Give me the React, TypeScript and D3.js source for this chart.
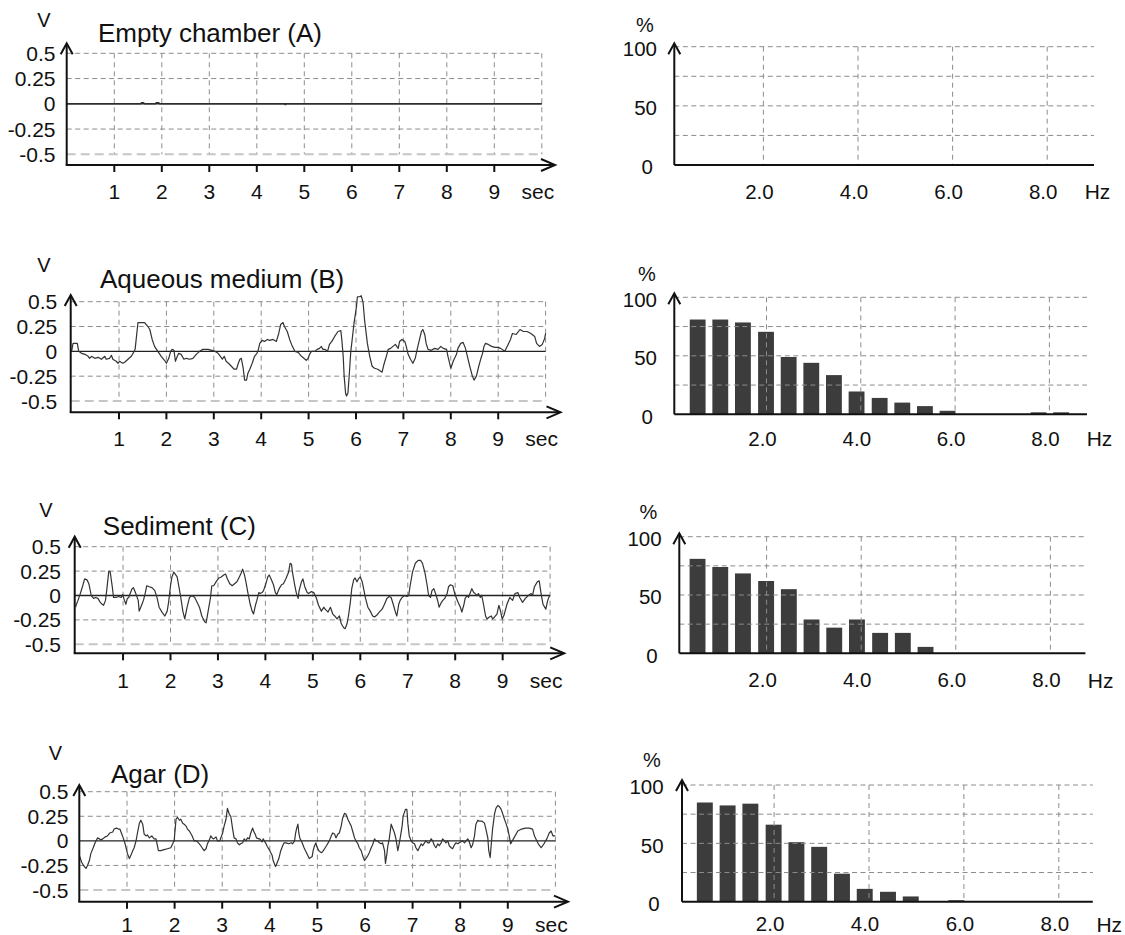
import React from 'react';
import * as d3 from 'd3';

type Pt = [number, number];

const FONT = '"Liberation Sans", Arial, Helvetica, sans-serif';

// ---- axis ticks and labels ----
const secTicks = [1, 2, 3, 4, 5, 6, 7, 8, 9];
const voltTicks = [0.5, 0.25, 0, -0.25, -0.5];
const voltLabels = ['0.5', '0.25', '0', '-0.25', '-0.5'];
const hzTicks = [2, 4, 6, 8];
const hzLabels = ['2.0', '4.0', '6.0', '8.0'];
const pctGrid = [25, 50, 75, 100];
const pctTicks = [0, 50, 100];

const titles = ['Empty chamber (A)', 'Aqueous medium (B)', 'Sediment (C)', 'Agar (D)'];

// ---- voltage traces (sec, V) ----
const signalA: Pt[] = [
  [0, 0], [1.56, 0], [1.57, 0.012], [1.62, 0.012], [1.63, 0], [1.87, 0], [1.88, 0.012], [1.94, 0.012],
  [1.95, 0], [4.58, 0], [4.59, -0.008], [4.61, -0.008], [4.62, 0], [10, 0],
];

const signalB: Pt[] = [
  [0, 0], [0.03, 0.08], [0.12, 0.08], [0.15, 0], [0.21, -0.02], [0.28, -0.03], [0.35, -0.05], [0.38, -0.07],
  [0.42, -0.05], [0.49, -0.07], [0.56, -0.06], [0.63, -0.08], [0.7, -0.05], [0.73, -0.08], [0.8, -0.07],
  [0.84, -0.04], [0.87, -0.08], [0.94, -0.1], [0.98, -0.12], [1.01, -0.1], [1.08, -0.12], [1.12, -0.11],
  [1.19, -0.08], [1.26, -0.05], [1.32, 0], [1.34, 0.02], [1.4, 0.29], [1.47, 0.29], [1.54, 0.29], [1.61, 0.25],
  [1.65, 0.22], [1.7, 0.12], [1.75, 0.05], [1.82, 0], [1.89, -0.05], [1.96, -0.09], [2.0, -0.12], [2.05, -0.07],
  [2.09, 0], [2.12, 0.02], [2.16, 0.01], [2.19, -0.1], [2.23, -0.05], [2.26, -0.02], [2.31, -0.03], [2.37, -0.08],
  [2.42, -0.07], [2.49, -0.08], [2.56, -0.07], [2.63, -0.03], [2.7, 0], [2.77, 0.02], [2.88, 0.02], [2.96, 0.01],
  [3.02, 0], [3.09, -0.02], [3.14, -0.05], [3.18, -0.08], [3.22, -0.05], [3.26, -0.1], [3.31, -0.12], [3.37, -0.15],
  [3.43, -0.18], [3.48, -0.18], [3.51, -0.13], [3.55, -0.08], [3.58, -0.07], [3.62, -0.17], [3.65, -0.29],
  [3.69, -0.29], [3.72, -0.22], [3.76, -0.18], [3.81, -0.12], [3.86, -0.05], [3.91, -0.02], [3.93, 0], [3.97, 0.08],
  [4.02, 0.11], [4.07, 0.1], [4.13, 0.12], [4.18, 0.11], [4.25, 0.12], [4.32, 0.1], [4.37, 0.18], [4.41, 0.27],
  [4.46, 0.29], [4.49, 0.25], [4.55, 0.2], [4.6, 0.12], [4.64, 0.07], [4.71, 0], [4.78, -0.01], [4.85, -0.05],
  [4.9, -0.07], [4.95, -0.09], [4.99, -0.07], [5.02, -0.03], [5.06, 0], [5.13, 0], [5.18, 0.02], [5.23, 0.03],
  [5.27, 0.05], [5.3, 0.02], [5.34, 0.02], [5.4, 0], [5.44, 0.07], [5.49, 0.1], [5.55, 0.15], [5.62, 0.2],
  [5.68, 0.21], [5.7, 0.12], [5.73, -0.05], [5.75, -0.25], [5.78, -0.42], [5.8, -0.45], [5.83, -0.42],
  [5.86, -0.22], [5.89, 0], [5.92, 0.12], [5.96, 0.29], [6.01, 0.45], [6.03, 0.55], [6.08, 0.55], [6.11, 0.56],
  [6.15, 0.49], [6.18, 0.32], [6.24, 0.08], [6.29, -0.05], [6.34, -0.15], [6.39, -0.17], [6.46, -0.18],
  [6.52, -0.2], [6.55, -0.21], [6.59, -0.13], [6.64, -0.05], [6.68, 0.02], [6.73, 0.03], [6.78, 0.05], [6.83, 0.07],
  [6.89, 0.03], [6.92, 0.1], [6.97, 0.12], [7.03, 0.1], [7.06, 0.05], [7.1, -0.03], [7.15, -0.08], [7.2, -0.12],
  [7.25, -0.07], [7.29, 0.02], [7.32, 0.08], [7.38, 0.2], [7.41, 0.22], [7.45, 0.17], [7.48, 0.08], [7.52, 0.02],
  [7.59, 0.01], [7.66, 0.03], [7.73, 0.02], [7.79, 0.05], [7.84, 0.03], [7.91, 0.02], [7.94, -0.05], [8.0, -0.17],
  [8.05, -0.1], [8.12, -0.03], [8.15, 0.03], [8.21, 0.08], [8.26, 0.09], [8.31, 0.03], [8.35, -0.05], [8.4, -0.15],
  [8.45, -0.24], [8.49, -0.29], [8.54, -0.25], [8.59, -0.15], [8.63, -0.08], [8.67, -0.02], [8.7, 0.05],
  [8.73, 0.08], [8.79, 0.07], [8.86, 0.05], [8.93, 0.04], [9.0, 0.04], [9.05, 0.03], [9.14, 0], [9.26, 0.12],
  [9.3, 0.18], [9.38, 0.17], [9.46, 0.22], [9.53, 0.2], [9.61, 0.2], [9.69, 0.18], [9.77, 0.15], [9.81, 0.08],
  [9.87, 0.05], [9.93, 0.07], [9.98, 0.13], [10, 0.18],
];

const signalC: Pt[] = [
  [0, -0.12], [0.01, -0.1], [0.05, -0.05], [0.1, 0.02], [0.15, 0.1], [0.19, 0.17], [0.24, 0.16], [0.28, 0.12],
  [0.33, 0], [0.38, -0.03], [0.42, -0.02], [0.47, -0.03], [0.52, -0.07], [0.56, -0.09], [0.59, -0.1], [0.63, -0.05],
  [0.66, 0.07], [0.7, 0.25], [0.73, 0.24], [0.77, 0.1], [0.8, -0.02], [0.85, -0.02], [0.91, -0.01], [0.96, -0.02],
  [0.99, 0.01], [1.03, -0.05], [1.06, -0.09], [1.09, -0.03], [1.12, -0.02], [1.15, 0.02], [1.19, 0.07], [1.22, 0.08],
  [1.26, 0.03], [1.32, -0.05], [1.34, -0.16], [1.39, -0.1], [1.43, -0.05], [1.47, 0.03], [1.5, 0.1], [1.55, 0.09],
  [1.61, 0.08], [1.67, 0.05], [1.72, -0.03], [1.76, -0.12], [1.82, -0.17], [1.88, -0.21], [1.93, -0.16],
  [1.96, -0.07], [2.0, 0.1], [2.03, 0.19], [2.07, 0.24], [2.14, 0.19], [2.21, 0], [2.26, -0.16], [2.3, -0.24],
  [2.35, -0.12], [2.4, -0.02], [2.45, 0], [2.51, -0.02], [2.56, -0.07], [2.61, -0.12], [2.66, -0.21], [2.72, -0.27],
  [2.75, -0.28], [2.79, -0.17], [2.84, -0.03], [2.87, 0.1], [2.91, 0.1], [2.96, 0.14], [3.02, 0.18], [3.07, 0.19],
  [3.12, 0.21], [3.16, 0.22], [3.2, 0.17], [3.25, 0.12], [3.3, 0.1], [3.35, 0.12], [3.4, 0.14], [3.44, 0.18],
  [3.49, 0.23], [3.52, 0.27], [3.56, 0.21], [3.59, 0.14], [3.63, 0.03], [3.68, -0.09], [3.72, -0.16], [3.75, -0.19],
  [3.79, -0.1], [3.82, -0.05], [3.86, 0.03], [3.89, 0.02], [3.93, 0.03], [3.96, 0.05], [4.01, 0.12], [4.05, 0.19],
  [4.08, 0.21], [4.12, 0.17], [4.17, 0.11], [4.21, 0.03], [4.24, 0.01], [4.29, 0.07], [4.34, 0.11], [4.38, 0.12],
  [4.43, 0.17], [4.49, 0.24], [4.52, 0.33], [4.55, 0.32], [4.57, 0.24], [4.62, 0.1], [4.65, 0.03], [4.69, -0.03],
  [4.71, 0.05], [4.76, 0.14], [4.79, 0.17], [4.83, 0.09], [4.88, 0.03], [4.91, 0.02], [4.97, 0.04], [5.02, 0.03],
  [5.07, -0.02], [5.12, -0.1], [5.18, -0.16], [5.23, -0.12], [5.26, -0.14], [5.32, -0.17], [5.37, -0.12],
  [5.42, -0.19], [5.46, -0.21], [5.51, -0.24], [5.56, -0.21], [5.6, -0.29], [5.65, -0.33], [5.68, -0.34],
  [5.72, -0.29], [5.75, -0.21], [5.79, -0.07], [5.82, 0.07], [5.86, 0.16], [5.89, 0.18], [5.93, 0.14], [5.96, 0.17],
  [6.0, 0.19], [6.04, 0.14], [6.07, 0.07], [6.11, -0.03], [6.16, -0.12], [6.21, -0.16], [6.26, -0.21], [6.3, -0.22],
  [6.35, -0.2], [6.4, -0.17], [6.46, -0.14], [6.51, -0.09], [6.56, -0.03], [6.61, -0.01], [6.65, -0.02],
  [6.7, -0.1], [6.74, -0.17], [6.77, -0.21], [6.81, -0.09], [6.84, -0.05], [6.88, -0.02], [6.93, 0], [6.98, -0.01],
  [7.02, 0], [7.05, 0.1], [7.1, 0.24], [7.16, 0.33], [7.22, 0.36], [7.27, 0.36], [7.31, 0.33], [7.36, 0.24],
  [7.41, 0.1], [7.44, 0], [7.48, -0.02], [7.51, 0.05], [7.55, 0.07], [7.6, 0], [7.64, -0.07], [7.66, -0.12],
  [7.71, -0.07], [7.74, -0.05], [7.78, -0.03], [7.83, 0.02], [7.86, 0.09], [7.9, 0.11], [7.95, 0.1], [7.99, 0.02],
  [8.02, -0.02], [8.06, -0.07], [8.11, -0.12], [8.14, -0.17], [8.18, -0.1], [8.21, -0.03], [8.25, 0], [8.28, -0.02],
  [8.32, 0.03], [8.35, 0.07], [8.39, 0.03], [8.42, 0.02], [8.46, 0], [8.49, 0.02], [8.53, -0.02], [8.56, 0],
  [8.6, -0.1], [8.64, -0.21], [8.67, -0.24], [8.72, -0.22], [8.76, -0.21], [8.79, -0.24], [8.83, -0.22],
  [8.88, -0.19], [8.92, -0.1], [8.95, -0.15], [8.99, -0.24], [9.03, -0.2], [9.09, -0.09], [9.15, -0.02],
  [9.21, -0.05], [9.26, 0.02], [9.32, 0.03], [9.36, -0.02], [9.42, -0.07], [9.48, -0.03], [9.54, 0], [9.6, 0.02],
  [9.63, 0], [9.67, 0.09], [9.73, 0.14], [9.77, 0.15], [9.81, 0.02], [9.85, -0.09], [9.91, -0.14], [9.95, -0.05],
  [9.99, 0],
];

const signalD: Pt[] = [
  [0, -0.15], [0.05, -0.22], [0.1, -0.26], [0.14, -0.28], [0.17, -0.25], [0.21, -0.2], [0.24, -0.13], [0.29, -0.07],
  [0.33, -0.02], [0.38, 0.03], [0.42, 0.02], [0.45, 0.01], [0.49, 0.02], [0.54, 0.04], [0.59, 0.05], [0.64, 0.08],
  [0.7, 0.09], [0.73, 0.12], [0.78, 0.13], [0.82, 0.12], [0.85, 0.12], [0.89, 0.07], [0.92, 0.03], [0.96, -0.03],
  [1.01, -0.13], [1.05, -0.18], [1.08, -0.15], [1.12, -0.1], [1.15, -0.07], [1.19, 0], [1.22, 0.08], [1.26, 0.18],
  [1.29, 0.21], [1.33, 0.17], [1.36, 0.07], [1.4, 0.05], [1.43, 0.06], [1.47, 0.03], [1.52, 0.05], [1.57, 0.02],
  [1.61, 0.02], [1.66, -0.1], [1.71, -0.1], [1.78, -0.09], [1.85, -0.08], [1.92, -0.07], [1.96, -0.03], [1.99, 0],
  [2.03, 0.22], [2.06, 0.24], [2.1, 0.21], [2.13, 0.22], [2.17, 0.18], [2.2, 0.17], [2.24, 0.15], [2.27, 0.12],
  [2.31, 0.1], [2.37, 0.05], [2.41, 0], [2.45, 0], [2.48, -0.01], [2.52, -0.03], [2.55, -0.05], [2.59, -0.08],
  [2.62, -0.1], [2.66, -0.08], [2.69, -0.03], [2.73, 0.01], [2.76, 0.05], [2.79, 0.03], [2.82, 0.02], [2.87, 0.04],
  [2.9, 0], [2.95, 0], [2.97, 0.03], [3.01, 0.08], [3.04, 0.15], [3.08, 0.22], [3.11, 0.33], [3.15, 0.27],
  [3.18, 0.25], [3.22, 0.12], [3.25, 0.03], [3.29, 0.02], [3.32, -0.02], [3.36, -0.04], [3.39, -0.03], [3.43, -0.02],
  [3.46, 0.02], [3.5, 0], [3.53, 0.03], [3.57, 0.02], [3.6, 0.08], [3.64, 0.13], [3.66, 0.1], [3.7, 0.06],
  [3.72, 0.03], [3.77, 0.02], [3.79, 0.02], [3.84, -0.01], [3.86, 0.02], [3.91, -0.02], [3.95, -0.06], [4.0, -0.1],
  [4.05, -0.15], [4.07, -0.2], [4.12, -0.26], [4.14, -0.24], [4.19, -0.18], [4.23, -0.1], [4.27, -0.05],
  [4.3, -0.02], [4.34, -0.02], [4.4, -0.03], [4.45, -0.02], [4.48, -0.03], [4.52, 0], [4.54, 0.07], [4.56, 0.12],
  [4.59, 0.17], [4.61, 0.08], [4.63, 0.03], [4.68, -0.02], [4.72, -0.07], [4.77, -0.12], [4.83, -0.18],
  [4.89, -0.16], [4.91, -0.1], [4.94, -0.05], [4.97, -0.02], [4.98, -0.05], [5.03, -0.1], [5.08, -0.12],
  [5.11, -0.11], [5.15, -0.08], [5.19, -0.05], [5.25, 0], [5.29, 0.05], [5.32, 0.08], [5.36, 0.07], [5.39, 0.03],
  [5.43, 0.07], [5.46, 0.08], [5.5, 0.15], [5.53, 0.23], [5.57, 0.28], [5.6, 0.27], [5.64, 0.22], [5.67, 0.19],
  [5.71, 0.15], [5.74, 0.1], [5.78, 0.03], [5.81, 0], [5.85, -0.03], [5.88, -0.07], [5.92, -0.1], [5.95, -0.15],
  [5.99, -0.2], [6.02, -0.18], [6.06, -0.15], [6.09, -0.12], [6.13, -0.07], [6.16, -0.04], [6.2, 0.02], [6.23, 0],
  [6.27, 0], [6.3, -0.02], [6.34, -0.03], [6.37, -0.02], [6.41, -0.1], [6.43, -0.23], [6.46, -0.13], [6.48, -0.05],
  [6.51, 0.02], [6.55, 0.17], [6.58, 0.13], [6.62, 0.08], [6.65, 0.02], [6.69, -0.1], [6.71, -0.05], [6.74, 0.03],
  [6.78, 0.15], [6.8, 0.25], [6.85, 0.32], [6.88, 0.32], [6.9, 0.18], [6.93, 0.05], [6.97, 0], [7.0, -0.02],
  [7.04, -0.03], [7.07, -0.07], [7.11, -0.1], [7.14, -0.07], [7.18, -0.03], [7.21, -0.05], [7.25, -0.02], [7.28, 0],
  [7.32, -0.02], [7.35, -0.02], [7.39, 0.02], [7.42, 0], [7.46, -0.05], [7.49, -0.07], [7.53, -0.03], [7.56, -0.05],
  [7.6, -0.02], [7.63, 0.02], [7.67, 0], [7.7, -0.02], [7.74, 0], [7.77, -0.05], [7.81, -0.07], [7.84, -0.08],
  [7.88, -0.04], [7.91, -0.02], [7.95, -0.03], [7.98, -0.02], [8.02, -0.01], [8.05, 0], [8.09, -0.02], [8.12, 0],
  [8.16, 0.02], [8.19, -0.01], [8.23, -0.07], [8.26, -0.04], [8.3, 0.05], [8.33, 0.17], [8.37, 0.21], [8.4, 0.2],
  [8.46, 0.2], [8.51, 0.18], [8.54, 0.12], [8.58, 0.03], [8.6, -0.1], [8.63, -0.17], [8.65, -0.05], [8.68, 0.12],
  [8.72, 0.27], [8.75, 0.33], [8.79, 0.36], [8.82, 0.35], [8.86, 0.32], [8.89, 0.28], [8.93, 0.22], [8.96, 0.18],
  [9.0, 0.12], [9.03, 0.05], [9.06, -0.03], [9.13, 0.03], [9.21, 0.1], [9.29, 0.12], [9.37, 0.13], [9.45, 0.13],
  [9.52, 0.12], [9.56, 0.05], [9.64, -0.03], [9.7, -0.07], [9.76, -0.03], [9.82, 0.02], [9.87, 0.08], [9.91, 0.1],
  [9.95, 0.05], [10, 0.05],
];

// ---- spectra (% per frequency bin) ----
const binFreqs = [0.54, 1.02, 1.5, 1.99, 2.47, 2.95, 3.43, 3.91, 4.4, 4.88, 5.36, 5.84, 6.32, 6.81, 7.29, 7.77, 8.25];
const spectrumA = [0, 0, 0, 0, 0, 0, 0, 0, 0, 0, 0, 0, 0, 0, 0, 0, 0];
const spectrumB = [81, 81, 78.5, 70.5, 49, 44, 33.5, 19.5, 14, 10, 7, 3, 0, 0, 0, 1.7, 1.7];
const spectrumC = [81, 74, 68.5, 62, 55, 29, 22, 29, 17.5, 17.5, 5.5, 0, 0, 0, 0, 0, 0];
const spectrumD = [85, 82.5, 84, 66, 51, 47, 24, 11, 8.5, 4.5, 0, 1.3, 0, 0, 0, 0, 0];

const signals = [signalA, signalB, signalC, signalD];
const spectra = [spectrumA, spectrumB, spectrumC, spectrumD];

// panel placement (pixels)
const traceLayout = [
  { axisX: 66.7, x0: 66.8, x10: 541.8, yHi: 53.3, yLo: 154.3, axisY: 165, top: 43.3, tip: 555, tx: 98, ty: 41.7, vx: 44, vy: 20, lx: 55.5, ly: 191.7 },
  { axisX: 70.7, x0: 71.6, x10: 545.6, yHi: 301.7, yLo: 401, axisY: 412.3, top: 295, tip: 560.5, tx: 100, ty: 288.3, vx: 44, vy: 265, lx: 57.3, ly: 438.3 },
  { axisX: 74.7, x0: 75.6, x10: 550.1, yHi: 546.7, yLo: 644.3, axisY: 653.3, top: 536.7, tip: 564.2, tx: 102.8, ty: 535, vx: 46, vy: 510, lx: 61, ly: 680 },
  { axisX: 79.3, x0: 79.4, x10: 555.4, yHi: 791.7, yLo: 890, axisY: 901.7, top: 785, tip: 568, tx: 111, ty: 783.3, vx: 55.5, vy: 753, lx: 68.4, ly: 924 },
];

const specLayout = [
  { x0: 668.8, pxHz: 47.3, y100: 46.7, y0: 165, axisX: 674.3, top: 43.3, xEnd: 1094, px: 645, py: 25, lx: 657, ly: 191.7 },
  { x0: 672.2, pxHz: 47.15, y100: 297.3, y0: 414.3, axisX: 674.3, top: 293.3, xEnd: 1087, px: 647, py: 273.3, lx: 657, ly: 438.3 },
  { x0: 672, pxHz: 47.3, y100: 536.7, y0: 653.3, axisX: 679.3, top: 533.3, xEnd: 1085.4, px: 648.5, py: 511.7, lx: 661.7, ly: 680 },
  { x0: 679.2, pxHz: 47.45, y100: 785, y0: 901.7, axisX: 682, top: 780, xEnd: 1092.8, px: 652, py: 760, lx: 663.6, ly: 924 },
];

const GRID = '#8c8c8c';
const INK = '#111';

function UpArrow({ x, y }: { x: number; y: number }) {
  return <path d={`M${x - 6},${y + 11} L${x},${y} L${x + 6},${y + 11}`} fill="none" stroke={INK} strokeWidth={2} />;
}

function TracePanel({ L, title, data }: { L: any; title: string; data: Pt[] }) {
  const x = d3.scaleLinear().domain([0, 10]).range([L.x0, L.x10]);
  const y = d3.scaleLinear().domain([-0.5, 0.5]).range([L.yLo, L.yHi]);
  const line = d3.line<Pt>().x(d => x(d[0])).y(d => y(d[1]));

  return (
    <g fontFamily={FONT} fill="#111">
      {[...secTicks, 10].map(t => (
        <line key={'v' + t} x1={x(t)} x2={x(t)} y1={y(0.5)} y2={y(-0.5)} stroke={GRID} strokeDasharray="5,4" />
      ))}
      {[0.5, 0.25, -0.25].map(v => (
        <line key={'h' + v} x1={L.axisX} x2={x(10)} y1={y(v)} y2={y(v)} stroke={GRID} strokeDasharray="5,3.5" />
      ))}
      <line x1={L.axisX} x2={x(10)} y1={y(-0.5)} y2={y(-0.5)} stroke="#c6c6c6" strokeWidth={2} strokeDasharray="9,5" />
      <line x1={L.axisX} x2={x(10)} y1={y(0)} y2={y(0)} stroke="#222" strokeWidth={1.4} />
      <path d={line(data) ?? ''} fill="none" stroke="#333" strokeWidth={1.2} strokeLinejoin="round" />

      {/* axes */}
      <line x1={L.axisX} x2={L.axisX} y1={L.axisY} y2={L.top + 1} stroke={INK} strokeWidth={2} />
      <UpArrow x={L.axisX} y={L.top} />
      <line x1={L.axisX - 1} x2={L.tip - 1} y1={L.axisY} y2={L.axisY} stroke={INK} strokeWidth={2} />
      <path d={`M${L.tip - 14},${L.axisY - 6} L${L.tip},${L.axisY} L${L.tip - 14},${L.axisY + 6}`} fill="none" stroke={INK} strokeWidth={2} />
      {secTicks.map(t => (
        <line key={'t' + t} x1={x(t)} x2={x(t)} y1={L.axisY} y2={L.axisY + 7} stroke={INK} strokeWidth={2} />
      ))}

      {/* labels */}
      {voltTicks.map((v, i) => (
        <text key={'yl' + v} x={L.lx} y={y(v)} dy="0.36em" textAnchor="end" fontSize={21}>{voltLabels[i]}</text>
      ))}
      {secTicks.map(t => (
        <text key={'xl' + t} x={x(t)} y={L.ly} dy="0.36em" textAnchor="middle" fontSize={21}>{t}</text>
      ))}
      <text x={x(10) - 4} y={L.ly} dy="0.36em" textAnchor="middle" fontSize={21}>sec</text>
      <text x={L.vx} y={L.vy} dy="0.36em" textAnchor="middle" fontSize={20}>V</text>
      <text x={L.tx} y={L.ty} fontSize={26}>{title}</text>
    </g>
  );
}

function SpectrumPanel({ L, values }: { L: any; values: number[] }) {
  const x = d3.scaleLinear().domain([0, 9]).range([L.x0, L.x0 + 9 * L.pxHz]);
  const y = d3.scaleLinear().domain([0, 100]).range([L.y0, L.y100]);
  const bw = x(0.336) - x(0);

  return (
    <g fontFamily={FONT} fill="#111">
      {values.map((v, i) => v > 0 && (
        <rect key={'b' + i} x={x(binFreqs[i]) - bw / 2} y={y(v)} width={bw} height={y(0) - y(v)} fill="#3c3c3c" />
      ))}
      {hzTicks.map(t => (
        <line key={'v' + t} x1={x(t)} x2={x(t)} y1={y(100)} y2={y(0)} stroke={GRID} strokeDasharray="5,4" />
      ))}
      {pctGrid.map(v => (
        <line key={'h' + v} x1={L.axisX} x2={L.xEnd} y1={y(v)} y2={y(v)} stroke={GRID} strokeDasharray="5,3.5" />
      ))}

      <line x1={L.axisX} x2={L.xEnd} y1={y(0)} y2={y(0)} stroke={INK} strokeWidth={2} />
      <line x1={L.axisX} x2={L.axisX} y1={y(0)} y2={L.top + 1} stroke={INK} strokeWidth={2} />
      <UpArrow x={L.axisX} y={L.top} />

      {pctTicks.map(v => (
        <text key={'yl' + v} x={v === 0 ? L.lx - 4 : L.lx} y={y(v) + 2} dy="0.36em" textAnchor="end" fontSize={20.5}>{v}</text>
      ))}
      {hzTicks.map((t, i) => (
        <text key={'xl' + t} x={x(t) - 4} y={L.ly} dy="0.36em" textAnchor="middle" fontSize={20.5}>{hzLabels[i]}</text>
      ))}
      <text x={x(9) + 3} y={L.ly} dy="0.36em" textAnchor="middle" fontSize={21}>Hz</text>
      <text x={L.px} y={L.py} dy="0.36em" textAnchor="middle" fontSize={20}>%</text>
    </g>
  );
}

export default function App() {
  return (
    <svg
      width={1125}
      height={935}
      viewBox="0 0 1125 935"
      style={{ position: 'absolute', left: 0, top: 0, background: '#fff' }}
    >
      <rect width={1125} height={935} fill="#fff" />
      {traceLayout.map((L, i) => (
        <TracePanel key={'t' + i} L={L} title={titles[i]} data={signals[i]} />
      ))}
      {specLayout.map((L, i) => (
        <SpectrumPanel key={'s' + i} L={L} values={spectra[i]} />
      ))}
    </svg>
  );
}
